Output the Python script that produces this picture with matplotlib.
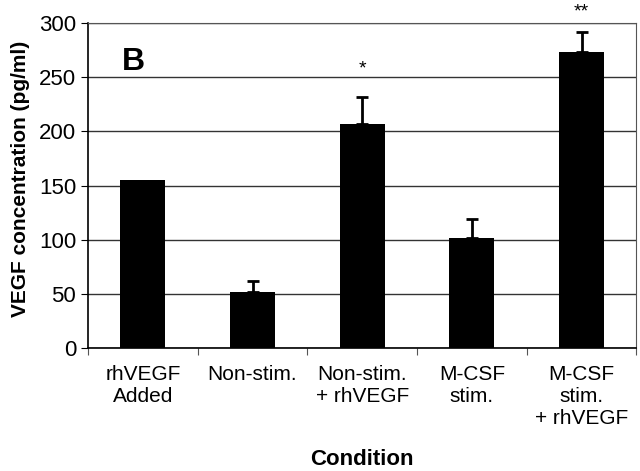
import matplotlib.pyplot as plt

plt.rcParams['font.family'] = ['Liberation Sans', 'DejaVu Sans']

conditions = ["rhVEGF\nAdded", "Non-stim.", "Non-stim.\n+ rhVEGF",
              "M-CSF\nstim.", "M-CSF\nstim.\n+ rhVEGF"]
vegf = [155, 52, 207, 102, 273]
err = [0, 10, 25, 17, 19]
stars = ["", "", "*", "", "**"]
star_y = [0, 0, 258, 0, 310]

fig = plt.figure(figsize=(6.4, 4.71), dpi=100)
ax = fig.add_axes([0.1375, 0.261, 0.857, 0.69])

x = range(len(conditions))
ax.set_axisbelow(True)
ax.yaxis.grid(True, color="#333333", linewidth=1)
ax.bar(x, vegf, width=0.41, color="black", zorder=2)
has_err = [i for i in x if err[i] > 0]
ax.errorbar(has_err, [vegf[i] for i in has_err],
            yerr=[[0] * len(has_err), [err[i] for i in has_err]],
            fmt="none", ecolor="black", elinewidth=2, capsize=4, capthick=2,
            zorder=3)
for i in x:
    if stars[i]:
        ax.text(i, star_y[i], stars[i], ha="center", va="center", fontsize=14,
                clip_on=False)

ax.set_xlim(-0.5, 4.5)
ax.set_ylim(0, 300)
ax.set_yticks(range(0, 301, 50))
ax.set_xticks([i + 0.5 for i in range(-1, 5)])
ax.set_xticklabels([])
ax.tick_params(axis="x", direction="out", length=5, color="#555555")
ax.set_xticks(list(x), minor=True)
ax.set_xticklabels(conditions, minor=True, fontsize=15, va="top",
                   linespacing=1.2)
ax.tick_params(axis="x", which="minor", length=0, pad=12)
ax.tick_params(axis="y", labelsize=16, length=5, direction="out")
for side in ["top", "right"]:
    ax.spines[side].set_color("#555555")
for side in ["left", "bottom"]:
    ax.spines[side].set_color("black")
    ax.spines[side].set_linewidth(1.2)

ax.text(0.062, 0.855, "B", transform=ax.transAxes, fontsize=23,
        fontweight="bold")
ax.set_ylabel("VEGF concentration (pg/ml)", fontsize=15, fontweight="bold")
ax.yaxis.set_label_coords(-0.105, 0.52)
fig.text(0.565, 0.025, "Condition", ha="center", va="center", fontsize=16,
         fontweight="bold")

fig.savefig("out.png")
